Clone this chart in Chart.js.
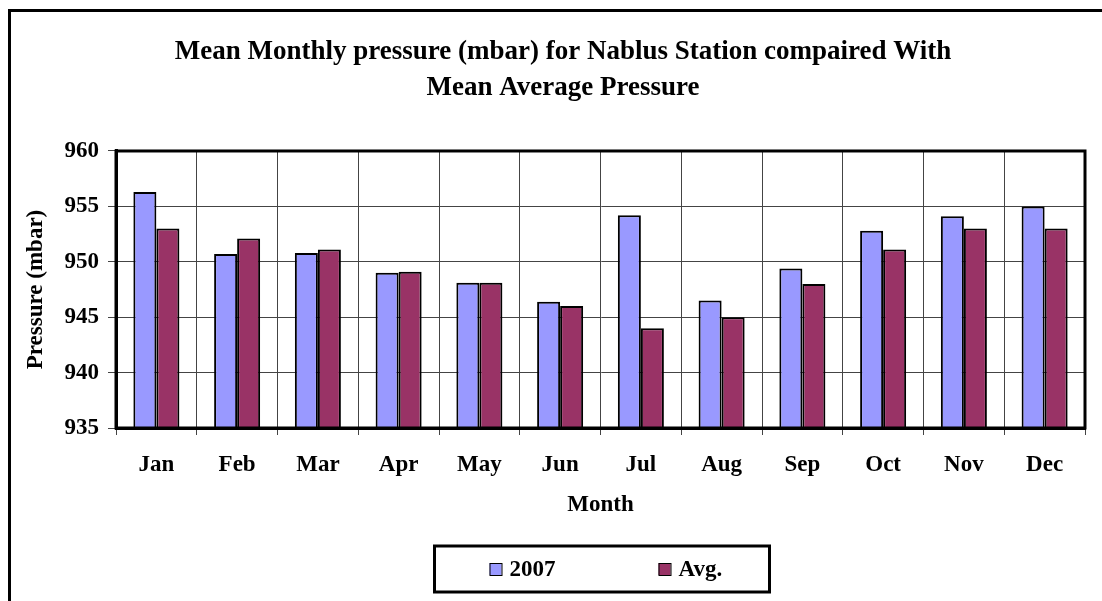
<!DOCTYPE html>
<html>
<head>
<meta charset="utf-8">
<script src="https://cdn.jsdelivr.net/npm/chart.js@4.4.1/dist/chart.umd.min.js"></script>
<style>
  html, body { margin: 0; padding: 0; background: #fff; overflow: hidden; }
  .frame {
    position: absolute; left: 8px; top: 9px; width: 1200px; height: 700px;
    border-left: 3px solid #000; border-top: 3px solid #000;
  }
  canvas { display: block; }
</style>
</head>
<body>
<div class="frame"><canvas id="chart" width="1104" height="590"></canvas></div>
<script>
const MONTHS = ["Jan", "Feb", "Mar", "Apr", "May", "Jun", "Jul", "Aug", "Sep", "Oct", "Nov", "Dec"];
const PRESSURE_2007 = [956.3, 950.7, 950.8, 949.0, 948.1, 946.4, 954.2, 946.5, 949.4, 952.8, 954.1, 955.0];
const PRESSURE_AVG = [953.0, 952.1, 951.1, 949.1, 948.1, 946.0, 944.0, 945.0, 948.0, 951.1, 953.0, 953.0];
const Y_TICKS = [935, 940, 945, 950, 955, 960];

const FONT = "'Liberation Serif', 'Times New Roman', serif";

// thick frame round the plot area
const plotBorder = {
  id: "plotBorder",
  afterDatasetsDraw(chart) {
    const { ctx, chartArea: a } = chart;
    ctx.save();
    ctx.strokeStyle = "#000";
    ctx.lineWidth = 3;
    ctx.strokeRect(a.left, a.top, a.right - a.left, a.bottom - a.top);
    ctx.restore();
  },
};

// legend in a box below the axis title
const boxedLegend = {
  id: "boxedLegend",
  afterDraw(chart) {
    const { ctx, chartArea: a } = chart;
    const cx = (a.left + a.right) / 2;
    const top = a.bottom + 118;
    ctx.save();
    ctx.lineWidth = 3;
    ctx.strokeStyle = "#000";
    ctx.strokeRect(cx - 166, top, 335, 46);
    ctx.font = "bold 23px " + FONT;
    ctx.textBaseline = "middle";
    chart.data.datasets.forEach((ds, i) => {
      const x = cx - 111 + i * 169;
      const y = top + 23;
      ctx.fillStyle = ds.backgroundColor;
      ctx.fillRect(x, y - 6, 12, 12);
      ctx.lineWidth = 1;
      ctx.strokeRect(x + 0.5, y - 5.5, 12, 12);
      ctx.fillStyle = "#000";
      ctx.fillText(ds.label, x + 20, y + 1);
    });
    ctx.restore();
  },
};

new Chart(document.getElementById("chart"), {
  type: "bar",
  data: {
    labels: MONTHS,
    datasets: [
      {
        label: "2007",
        data: PRESSURE_2007,
        backgroundColor: "#9999FF",
        borderColor: "#000",
        borderWidth: 2,
        base: Y_TICKS[0],
      },
      {
        label: "Avg.",
        data: PRESSURE_AVG,
        backgroundColor: "#993366",
        borderColor: "#000",
        borderWidth: 2,
        base: Y_TICKS[0],
      },
    ],
  },
  options: {
    responsive: false,
    animation: false,
    categoryPercentage: 0.57,
    barPercentage: 1.0,
    layout: { padding: { left: 0, right: 0, top: 0, bottom: 64 } },
    plugins: {
      legend: { display: false },
      tooltip: { enabled: false },
      title: {
        display: true,
        text: [
          "Mean Monthly pressure (mbar) for Nablus Station compaired With",
          "Mean Average Pressure",
        ],
        color: "#000",
        font: { family: FONT, size: 27, weight: "bold", lineHeight: 1.333 },
        padding: { top: 22, bottom: 45 },
      },
    },
    scales: {
      x: {
        afterFit: (scale) => { scale.height = 110; },
        grid: { offset: true, color: "#444", lineWidth: 1, tickLength: 7 },
        border: { display: true, color: "#000", width: 3 },
        ticks: { color: "#000", padding: 16, font: { family: FONT, size: 23, weight: "bold" } },
        title: {
          display: true,
          text: "Month",
          color: "#000",
          padding: 19,
          font: { family: FONT, size: 23, weight: "bold" },
        },
      },
      y: {
        min: Y_TICKS[0],
        max: Y_TICKS[Y_TICKS.length - 1],
        afterFit: (scale) => { scale.width = 105; },
        grid: { color: "#444", lineWidth: 1, tickLength: 8 },
        border: { display: true, color: "#000", width: 3 },
        ticks: {
          stepSize: Y_TICKS[1] - Y_TICKS[0],
          color: "#000",
          padding: 9,
          font: { family: FONT, size: 23, weight: "bold" },
        },
        title: {
          display: true,
          text: "Pressure (mbar)",
          color: "#000",
          padding: 11,
          font: { family: FONT, size: 23, weight: "bold" },
        },
      },
      // empty right-hand gutter so the title stays centred on the whole canvas
      gutter: {
        position: "right",
        min: Y_TICKS[0],
        max: Y_TICKS[Y_TICKS.length - 1],
        afterFit: (scale) => { scale.width = 30; },
        grid: { display: false },
        border: { display: false },
        ticks: { display: false },
      },
    },
  },
  plugins: [plotBorder, boxedLegend],
});
</script>
</body>
</html>
